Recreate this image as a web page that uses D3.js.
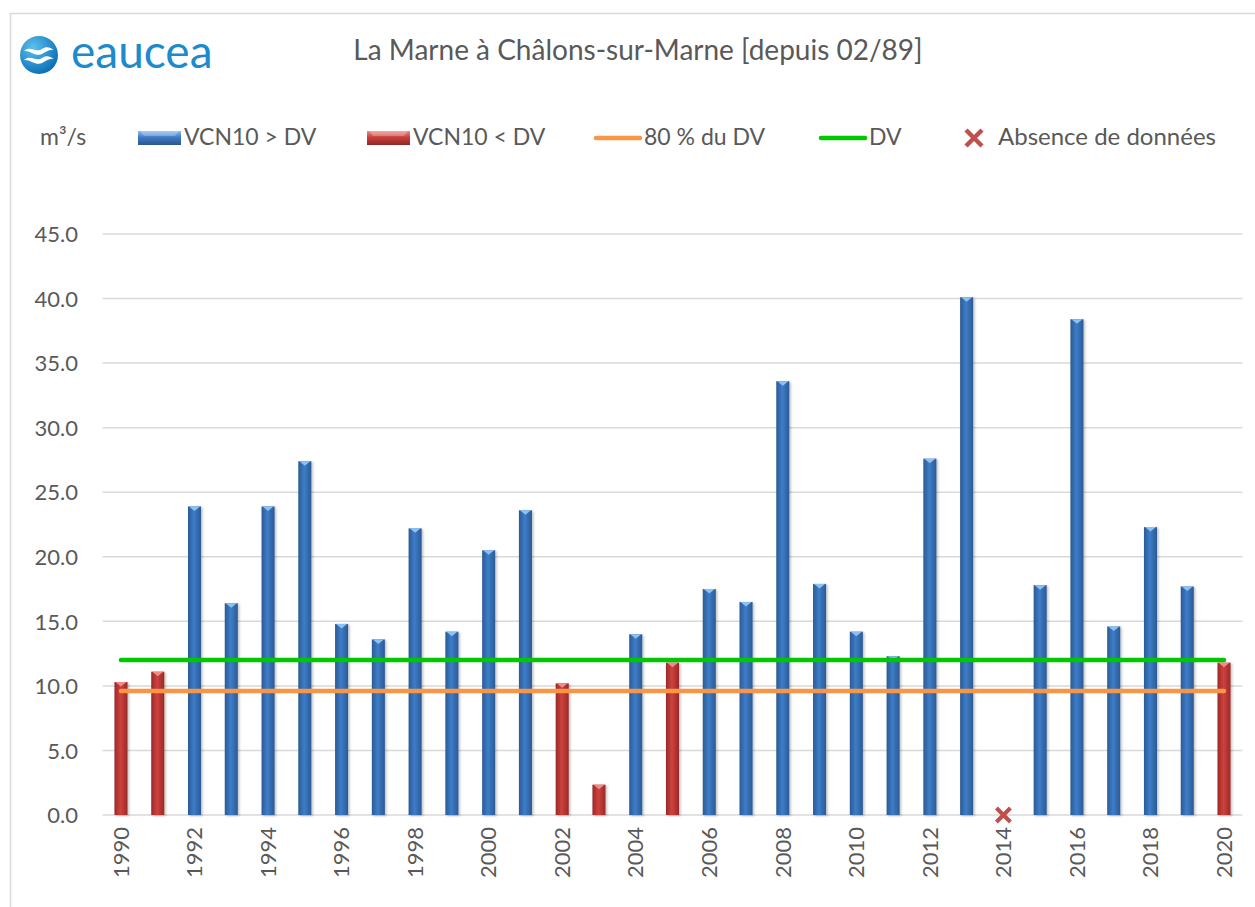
<!DOCTYPE html>
<html>
<head>
<meta charset="utf-8">
<title>La Marne à Châlons-sur-Marne</title>
<script src="https://d3js.org/d3.v7.min.js"></script>
<style>
  body { margin: 0; background: #fff; }
  svg text { font-family: Lato, "Open Sans", sans-serif; fill: #595959; }
</style>
</head>
<body>
<div id="chart"></div>
<script>
// data (m3/s)
var years = d3.range(1990, 2021);
var vcn10 = [10.3, 11.1, 23.9, 16.4, 23.9, 27.4, 14.8, 13.6, 22.2, 14.2,
             20.5, 23.6, 10.2, 2.35, 14.0, 11.8, 17.5, 16.5, 33.6, 17.9,
             14.2, 12.3, 27.6, 40.1, null, 17.8, 38.4, 14.6, 22.3, 17.7, 11.8];
var dv = 12.0;
var dv80 = 9.6;
var yTicks = [0, 5, 10, 15, 20, 25, 30, 35, 40, 45];
var xTickYears = years.filter(function (y) { return y % 2 === 0; });
var legendLabels = ["VCN10 > DV", "VCN10 < DV", "80 % du DV", "DV", "Absence de données"];

var W = 1255, H = 907;
var svg = d3.select("#chart").append("svg").attr("width", W).attr("height", H);
var defs = svg.append("defs");

// bar gradients (bevelled look)
function hGrad(id, edge, mid) {
  var g = defs.append("linearGradient").attr("id", id).attr("x1", 0).attr("x2", 1).attr("y1", 0).attr("y2", 0);
  g.append("stop").attr("offset", "0%").attr("stop-color", edge);
  g.append("stop").attr("offset", "45%").attr("stop-color", mid);
  g.append("stop").attr("offset", "100%").attr("stop-color", edge);
}
hGrad("gBlue", "#2b5a94", "#3d7dc9");
hGrad("gRed", "#982a28", "#d0413e");
function vGrad(id, top, mid, bot) {
  var g = defs.append("linearGradient").attr("id", id).attr("x1", 0).attr("x2", 0).attr("y1", 0).attr("y2", 1);
  g.append("stop").attr("offset", "0%").attr("stop-color", top);
  g.append("stop").attr("offset", "45%").attr("stop-color", mid);
  g.append("stop").attr("offset", "100%").attr("stop-color", bot);
}
vGrad("lgBlue", "#8cbcf0", "#3f7ac4", "#2a568e");
vGrad("lgRed", "#f08a86", "#c9403c", "#8e2826");
var sh = defs.append("filter").attr("id", "shadow").attr("x", "-30%").attr("y", "-5%").attr("width", "160%").attr("height", "110%");
sh.append("feDropShadow").attr("dx", 1.5).attr("dy", 1).attr("stdDeviation", 1.2).attr("flood-color", "#000").attr("flood-opacity", 0.25);

// frame
svg.append("rect").attr("x", 10.5).attr("y", 13.5).attr("width", W + 20).attr("height", H + 20)
  .attr("fill", "none").attr("stroke", "#d9d9d9").attr("stroke-width", 1.5);

// logo
var logo = svg.append("g");
var lg = defs.append("radialGradient").attr("id", "logoG").attr("cx", "35%").attr("cy", "30%").attr("r", "75%");
lg.append("stop").attr("offset", "0%").attr("stop-color", "#5cc0ee");
lg.append("stop").attr("offset", "100%").attr("stop-color", "#0a6db5");
logo.append("circle").attr("cx", 39).attr("cy", 55).attr("r", 19).attr("fill", "url(#logoG)");
logo.append("path").attr("d", "M24,51 C30,45 36,53 42,49 C46,46 50,47 54,50 C49,49 46,52 42,54 C36,57 30,50 24,51 Z").attr("fill", "#fff");
logo.append("path").attr("d", "M24,60 C30,54 36,62 42,58 C46,55 50,56 54,59 C49,58 46,61 42,63 C36,66 30,59 24,60 Z").attr("fill", "#fff");
logo.append("text").attr("x", 71).attr("y", 68).text("eaucea")
  .style("font-size", "46px").style("fill", "#1c8acb").style("font-weight", 400);

// title
svg.append("text").attr("x", 638).attr("y", 60).attr("text-anchor", "middle")
  .style("font-size", "28px").text("La Marne à Châlons-sur-Marne [depuis 02/89]");

// scales
var x = d3.scaleBand().domain(years).range([102.6, 1242.4]).padding(0);
var y = d3.scaleLinear().domain([0, 45]).range([815, 234]);
var bw = x.bandwidth() * 0.355;
var cx = function (yr) { return x(yr) + x.bandwidth() / 2; };

// grid
svg.append("g").selectAll("line").data(yTicks).join("line")
  .attr("x1", 102.6).attr("x2", 1242.4)
  .attr("y1", function (d) { return y(d); }).attr("y2", function (d) { return y(d); })
  .attr("stroke", "#d9d9d9").attr("stroke-width", 1.5);

// y axis
var yAxis = svg.append("g").attr("transform", "translate(84,0)")
  .call(d3.axisLeft(y).tickValues(yTicks).tickFormat(d3.format(".1f")).tickSize(0).tickPadding(6));
yAxis.select(".domain").remove();
yAxis.selectAll("text").style("font-size", "22px").attr("dy", "0.35em");

// x axis
var xAxis = svg.append("g").attr("transform", "translate(0,815)")
  .call(d3.axisBottom(x).tickValues(xTickYears).tickSize(0).tickPadding(0));
xAxis.select(".domain").remove();
xAxis.selectAll("text").style("font-size", "22px")
  .attr("text-anchor", "end").attr("transform", "rotate(-90)")
  .attr("x", -12).attr("y", 0).attr("dy", "0.35em");

// bars
var rows = years.map(function (yr, i) { return { year: yr, v: vcn10[i] }; });
var present = rows.filter(function (d) { return d.v !== null; });
var bars = svg.append("g").selectAll("g").data(present).join("g").attr("filter", "url(#shadow)");
bars.append("rect")
  .attr("x", function (d) { return cx(d.year) - bw / 2; })
  .attr("y", function (d) { return y(d.v); })
  .attr("width", bw)
  .attr("height", function (d) { return y(0) - y(d.v); })
  .attr("fill", function (d) { return d.v < dv ? "url(#gRed)" : "url(#gBlue)"; });
bars.append("path")
  .attr("d", function (d) {
    var c = cx(d.year), t = y(d.v);
    return "M" + (c - bw / 2 + 1) + "," + t + "L" + (c + bw / 2 - 1) + "," + t + "L" + c + "," + (t + 4.5) + "Z";
  })
  .attr("fill", function (d) { return d.v < dv ? "#f28a86" : "#8ec0f2"; });

// missing data marker
var missing = rows.filter(function (d) { return d.v === null; });
svg.append("g").selectAll("path").data(missing).join("path")
  .attr("transform", function (d) { return "translate(" + cx(d.year) + "," + y(0) + ")"; })
  .attr("d", "M-7,-7L7,7M-7,7L7,-7")
  .attr("stroke", "#c0504d").attr("stroke-width", 4);

// reference lines
var flat = function (val) {
  return d3.line().x(function (d) { return cx(d); }).y(function () { return y(val); })(years);
};
svg.append("path").attr("d", flat(dv80)).attr("fill", "none").attr("stroke", "#f79646")
  .attr("stroke-width", 4.5).attr("stroke-linecap", "round");
svg.append("path").attr("d", flat(dv)).attr("fill", "none").attr("stroke", "#00c800")
  .attr("stroke-width", 4.5).attr("stroke-linecap", "round");

// legend
var ly = 137;
svg.append("text").attr("x", 40).attr("y", ly).attr("dy", "0.35em").style("font-size", "23px").text("m³/s");
function swatch(x0, grad, label) {
  svg.append("rect").attr("x", x0).attr("y", ly - 6).attr("width", 43).attr("height", 14).attr("fill", grad);
  svg.append("path").attr("d", "M" + (x0 + 2) + "," + (ly - 6) + "L" + (x0 + 41) + "," + (ly - 6) + "L" + (x0 + 37) + "," + (ly - 1) + "L" + (x0 + 6) + "," + (ly - 1) + "Z")
    .attr("fill", "#fff").attr("opacity", 0.25);
  svg.append("text").attr("x", x0 + 46).attr("y", ly).attr("dy", "0.35em").style("font-size", "23px").text(label);
}
swatch(138, "url(#lgBlue)", legendLabels[0]);
swatch(367, "url(#lgRed)", legendLabels[1]);
function lineKey(x0, x1, color, label) {
  svg.append("line").attr("x1", x0).attr("x2", x1).attr("y1", ly + 1).attr("y2", ly + 1)
    .attr("stroke", color).attr("stroke-width", 4.5).attr("stroke-linecap", "round");
  svg.append("text").attr("x", x1 + 4).attr("y", ly).attr("dy", "0.35em").style("font-size", "23px").text(label);
}
lineKey(596, 640, "#f79646", legendLabels[2]);
lineKey(821, 865, "#00c800", legendLabels[3]);
svg.append("path").attr("transform", "translate(974," + (ly + 1) + ")")
  .attr("d", "M-8,-8L8,8M-8,8L8,-8").attr("stroke", "#c0504d").attr("stroke-width", 4.5);
svg.append("text").attr("x", 998).attr("y", ly).attr("dy", "0.35em").style("font-size", "24px").text(legendLabels[4]);
</script>
</body>
</html>
